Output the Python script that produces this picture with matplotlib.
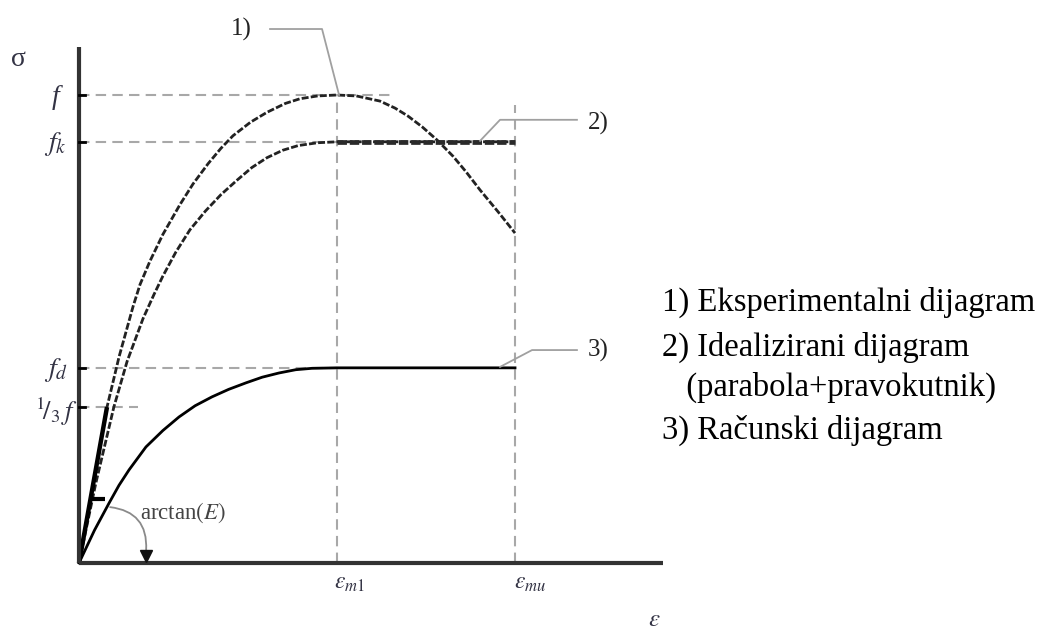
import matplotlib
matplotlib.use("Agg")
import matplotlib.pyplot as plt
from matplotlib.patches import FancyArrowPatch

plt.rcParams['font.family'] = ['Liberation Serif', 'DejaVu Serif']
plt.rcParams['mathtext.fontset'] = 'stix'

# characteristic values (sigma normalised to f)
f = 1.0
fk = 0.90
fd = 0.417
f3 = 1.0 / 3.0
eps_m1 = 2.0
eps_mu = 3.38

# 1) experimental curve
eps1 = [0, 0.10, 0.217, 0.31, 0.419, 0.473, 0.55, 0.65, 0.783, 0.884, 1.0, 1.1,
        1.194, 1.33, 1.457, 1.6, 1.713, 1.85, 2.0, 2.15, 2.333, 2.45, 2.55,
        2.66, 2.775, 2.9, 3.0, 3.109, 3.25, 3.38]
sig1 = [0, 0.153, 0.333, 0.44, 0.548, 0.595, 0.645, 0.702, 0.766, 0.810, 0.853, 0.886,
        0.913, 0.942, 0.963, 0.982, 0.992, 0.998, 1.0, 0.998, 0.987, 0.972, 0.955,
        0.932, 0.904, 0.869, 0.836, 0.797, 0.750, 0.705]

# 2) idealised curve (parabola + rectangle)
eps2 = [0, 0.13, 0.27, 0.372, 0.496, 0.58, 0.65, 0.75, 0.860, 0.98, 1.1, 1.225,
        1.34, 1.457, 1.58, 1.7, 1.85, 2.0, 3.38]
sig2 = [0, 0.17, 0.333, 0.430, 0.522, 0.573, 0.613, 0.664, 0.712, 0.752, 0.787, 0.818,
        0.845, 0.866, 0.882, 0.892, 0.898, 0.9, 0.9]

# 3) design curve
eps3 = [0, 0.12, 0.233, 0.31, 0.388, 0.519, 0.65, 0.775, 0.9, 1.031, 1.16, 1.295,
        1.42, 1.550, 1.68, 1.806, 2.0, 3.38]
sig3 = [0, 0.07, 0.128, 0.166, 0.199, 0.248, 0.283, 0.312, 0.336, 0.355, 0.371, 0.385,
        0.397, 0.406, 0.413, 0.416, 0.417, 0.417]

legend_lines = ["1) Eksperimentalni dijagram", "2) Idealizirani dijagram",
                "   (parabola+pravokutnik)", "3) Računski dijagram"]

fig = plt.figure(figsize=(10.5, 6.3), dpi=100)
ax = fig.add_axes([0, 0, 1, 1])
# origin at pixel (79, 563), 129 px per eps unit, 468 px per sigma unit
ax.set_xlim(-79 / 129, (1050 - 79) / 129)
ax.set_ylim(-67 / 468, (630 - 67) / 468)
ax.axis('off')

grey = '#a8a8a8'
dash = (0, (5, 3))

# guide lines
ax.plot([0, 2.434], [f, f], color=grey, lw=1.5, ls=dash)
ax.plot([0, eps_m1], [fk, fk], color=grey, lw=1.5, ls=dash)
ax.plot([0, eps_m1], [fd, fd], color=grey, lw=1.5, ls=dash)
ax.plot([0, 0.457], [f3, f3], color=grey, lw=1.5, ls=dash)
ax.plot([eps_m1, eps_m1], [0, f], color=grey, lw=1.5, ls=dash)
ax.plot([eps_mu, eps_mu], [0, 0.979], color=grey, lw=1.5, ls=dash)

# curves
ax.plot(eps1, sig1, color='#222222', lw=2.0, ls=(0, (2.5, 0.8)))
ax.plot(eps2, sig2, color='#222222', lw=2.0, ls=(0, (2.5, 0.8)))
ax.plot(eps2[-2:], sig2[-2:], color='#2a2a2a', lw=3.4, ls=(0, (2.0, 0.6)))
ax.plot(eps3, sig3, color='black', lw=2.0)

# secant modulus line
ax.plot([0, eps1[2]], [0, sig1[2]], color='black', lw=3.2, solid_capstyle='butt')

# axes
ax.plot([0, 0], [0, 1.103], color='#333333', lw=3, solid_capstyle='butt')
ax.plot([0, 4.527], [0, 0], color='#333333', lw=3, solid_capstyle='butt')
for v in [f, fk, fd, f3]:
    ax.plot([0, 0.05], [v, v], color='black', lw=2)

# arctan(E) marker and arrow
ax.plot([0.10, 0.20], [0.137, 0.137], color='black', lw=3, solid_capstyle='butt')
arr = FancyArrowPatch((0.22, 0.12), (0.519, 0.022),
                      connectionstyle="arc3,rad=-0.5",
                      arrowstyle='-', color='#8a8a8a', lw=1.3)
ax.add_patch(arr)
ax.plot([0.519], [0.014], marker='v', ms=8, color='#111111', ls='none')
ax.text(0.808, 0.107, r'arctan$(\mathit{E})$', fontsize=16.5, color='#444444',
        ha='center', va='center')

# leader lines
lc = '#a0a0a0'
ax.plot([1.481, 1.884, 2.016], [1.141, 1.141, 1.0], color=lc, lw=1.3)
ax.plot([3.860, 3.264, 3.109], [0.947, 0.947, 0.902], color=lc, lw=1.3)
ax.plot([3.860, 3.512, 3.264], [0.455, 0.455, 0.419], color=lc, lw=1.3)
ax.text(1.256, 1.141, '1)', fontsize=18, ha='center', va='center', color='#222222')
ax.text(4.023, 0.940, '2)', fontsize=18, ha='center', va='center', color='#222222')
ax.text(4.023, 0.455, '3)', fontsize=18, ha='center', va='center', color='#222222')

# axis symbols
tc = '#333344'
ax.text(-0.47, 1.075, 'σ', fontsize=20, ha='center', va='center', color=tc)
ax.text(-0.18, f - 0.005, 'f', fontsize=20, style='italic', ha='center', va='center', color=tc)
ax.text(-0.18, fk - 0.005, r'$f_k$', fontsize=20, ha='center', va='center', color=tc)
ax.text(-0.18, fd - 0.005, r'$f_d$', fontsize=20, ha='center', va='center', color=tc)
ax.text(-0.18, f3 - 0.01, r'$^1\!/_3\,f$', fontsize=19, ha='center', va='center', color=tc)
ax.text(eps_m1 + 0.1, -0.043, r'$\varepsilon_{m1}$', fontsize=17, ha='center', va='center', color=tc)
ax.text(eps_mu + 0.12, -0.043, r'$\varepsilon_{mu}$', fontsize=17, ha='center', va='center', color=tc)
ax.text(4.46, -0.122, r'$\varepsilon$', fontsize=18, ha='center', va='center', color=tc)

# legend text
ys = [302, 347, 387, 430]
for s, yp in zip(legend_lines, ys):
    fig.text(662 / 1050, 1 - yp / 630, s, fontsize=23.5, ha='left', va='center', color='black')

fig.savefig('out.png', dpi=100)
